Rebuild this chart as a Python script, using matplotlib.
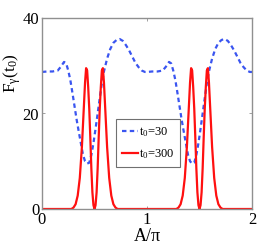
import numpy as np
import matplotlib
matplotlib.use('Agg')
from matplotlib import pyplot as plt

# blue dashed curve, t0=30 (one period, repeats from A=1 to A=2)
a_blue = [0.00, 0.05, 0.10, 0.15, 0.18, 0.21, 0.23, 0.25, 0.27, 0.29, 0.31, 0.33,
          0.35, 0.37, 0.39, 0.41, 0.43, 0.45, 0.47, 0.49, 0.51, 0.53, 0.55, 0.57,
          0.59, 0.62, 0.65, 0.68, 0.71, 0.74, 0.77, 0.80, 0.83, 0.86, 0.89, 0.92,
          0.95, 0.98]
f_blue = [28.7, 28.8, 28.8, 29.0, 29.8, 30.8, 30.5, 29.0, 27.0, 24.3, 21.5, 18.7,
          16.2, 13.8, 11.4, 10.0, 9.5, 9.7, 11.3, 13.8, 16.8, 20.0, 23.2, 26.3,
          28.8, 31.5, 33.5, 34.8, 35.4, 35.6, 35.2, 34.3, 33.2, 31.9, 30.6, 29.7,
          29.0, 28.7]

# red solid curve, t0=300 (one period)
a_red = [0.00, 0.28, 0.30, 0.32, 0.34, 0.36, 0.38, 0.40, 0.41, 0.42, 0.43, 0.44,
         0.45, 0.46, 0.47, 0.48, 0.49, 0.50, 0.51, 0.52, 0.53, 0.54, 0.55, 0.56,
         0.57, 0.58, 0.59, 0.60, 0.62, 0.64, 0.66, 0.68, 0.70, 0.72]
f_red = [0.0, 0.0, 0.3, 1.0, 2.8, 6.5, 13.0, 22.0, 26.5, 29.5, 29.0, 25.5,
         21.0, 15.0, 8.5, 3.5, 0.8, 0.0, 0.8, 3.5, 8.5, 15.0, 21.0, 25.5,
         29.0, 29.5, 26.5, 22.0, 13.0, 6.5, 2.8, 1.0, 0.3, 0.0]

labels = ['$\\mathregular{t_0}$=30', '$\\mathregular{t_0}$=300']

xb = np.array(a_blue + [a + 1 for a in a_blue] + [2.0])
yb = np.array(f_blue + f_blue + [f_blue[0]])
xr = np.array(a_red + [a + 1 for a in a_red] + [2.0])
yr = np.array(f_red + f_red + [0.0])

plt.rcParams['font.family'] = 'Liberation Serif'
plt.rcParams['mathtext.fontset'] = 'stix'

fig = plt.figure(figsize=(2.77, 2.47), dpi=100)
ax = fig.add_axes([42 / 277, 38 / 247, 210 / 277, 191 / 247])

ax.plot(xb, yb, '--', color='#3a55f0', lw=1.6, dashes=(2, 1.5), label=labels[0])
ax.plot(xr, yr, '-', color='#ff1010', lw=1.6, label=labels[1])

ax.set_xlim(0, 2)
ax.set_ylim(0, 40)
ax.set_xticks([0, 1, 2])
ax.set_yticks([0, 20, 40])
ax.tick_params(direction='in', length=2, width=0.6, color='#909090',
               top=True, right=True, labelsize=12, pad=2)
for s in ax.spines.values():
    s.set_color('#909090')
    s.set_linewidth(1.0)

ax.set_xlabel('A/\u03c0', fontsize=13, labelpad=0)
ax.set_ylabel('$\\mathregular{F_\\gamma(t_0)}$', fontsize=12.5)
ax.yaxis.set_label_coords(-0.09, 0.71)

leg = ax.legend(loc='lower left', bbox_to_anchor=(0.354, 0.22), fontsize=9,
                handlelength=1.25, handletextpad=0.1, borderpad=0.45,
                labelspacing=0.7, fancybox=False, borderaxespad=0, framealpha=1)
leg.get_frame().set_edgecolor('#707070')
leg.get_frame().set_linewidth(0.8)

fig.savefig('out.png', dpi=100)
